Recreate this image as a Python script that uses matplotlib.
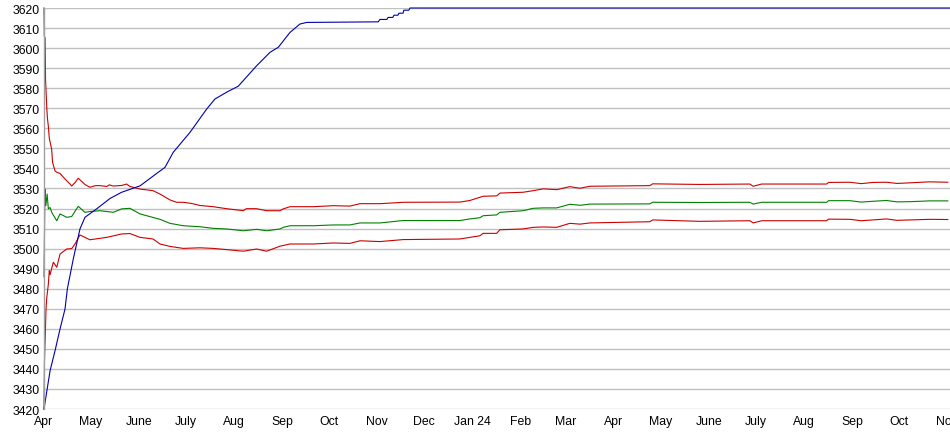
import matplotlib
matplotlib.use('Agg')
import matplotlib.pyplot as plt
import pandas as pd

START = pd.Timestamp('2023-04-01')

# upper red band (days since start, value)
upper_days = [0, 0.2, 0.7, 1.0, 1.8, 2.2, 2.8, 3.4, 4.9, 5.5, 7.1, 8.2, 10.3, 13.5, 16.7,
              17.8, 20.0, 22.0, 23.5, 26.3, 29.5, 33.0, 36.0, 40.3, 42.0, 44.5, 49.9, 53.1,
              55.2, 61.7, 70.0, 74.5, 80.9, 85.2, 89.5, 95.0, 100.2, 108.7, 117.3, 128.0,
              130.0, 136.6, 143.0, 151.6, 153.7, 158.0, 173.0, 185.8, 196.5, 203.0, 215.8,
              230.8, 267.2, 273.6, 280.0, 282.1, 290.8, 292.9, 307.8, 314.3, 320.7, 329.3,
              337.8, 344.3, 350.7, 389.2, 391.0, 421.3, 453.4, 455.6, 461.0, 502.7, 504.0,
              517.7, 525.0, 532.4, 541.2, 548.0, 556.2, 569.0, 580.6]
upper_vals = [3620, 3606, 3605, 3584, 3570, 3565, 3561, 3555, 3549.7, 3543, 3538.7, 3538.1,
              3537.5, 3534.7, 3532.2, 3531.2, 3533.0, 3535.1, 3534.0, 3532.0, 3530.6, 3531.4,
              3531.4, 3531.0, 3531.8, 3531.2, 3531.5, 3532.2, 3531.0, 3529.7, 3528.9, 3527.2,
              3524.3, 3523.1, 3523.1, 3522.5, 3521.5, 3520.9, 3519.9, 3518.9, 3519.9, 3519.9,
              3518.9, 3518.9, 3519.8, 3520.9, 3520.9, 3521.4, 3521.2, 3522.4, 3522.4, 3523.1,
              3523.2, 3524.0, 3525.6, 3526.1, 3526.3, 3527.7, 3528.1, 3528.9, 3529.8, 3529.4,
              3530.9, 3530.1, 3531.1, 3531.4, 3532.3, 3532.0, 3532.2, 3531.1, 3532.2, 3532.2,
              3533.0, 3533.1, 3532.4, 3533.0, 3533.1, 3532.5, 3532.8, 3533.3, 3533.1]

# green middle line
mid_days = [0, 0.3, 0.6, 1.2, 2.0, 2.8, 3.9, 5.0, 8.2, 10.3, 14.6, 17.8, 22.0, 26.3, 29.5,
            36.0, 44.5, 49.9, 55.2, 61.7, 74.5, 80.9, 89.5, 100.2, 108.7, 117.3, 128.0,
            136.6, 143.0, 151.6, 153.7, 158.0, 173.0, 185.8, 196.5, 203.0, 215.8, 230.8,
            267.2, 273.6, 280.0, 282.1, 290.8, 292.9, 307.8, 314.3, 320.7, 329.3, 337.8,
            344.3, 350.7, 389.2, 391.0, 421.3, 453.4, 455.6, 461.0, 502.7, 504.0, 517.7,
            525.0, 532.4, 541.2, 548.0, 556.2, 569.0, 580.6]
mid_vals = [3486, 3507, 3529.7, 3521.4, 3527.2, 3519.8, 3520.5, 3518.0, 3513.9, 3517.3,
            3515.6, 3516.0, 3521.1, 3518.1, 3518.5, 3518.9, 3518.1, 3519.8, 3520.1, 3517.3,
            3514.6, 3512.6, 3511.4, 3510.9, 3510.1, 3509.8, 3508.9, 3509.6, 3508.9, 3509.8,
            3510.6, 3511.4, 3511.4, 3511.8, 3511.8, 3512.8, 3512.8, 3514.0, 3514.0, 3514.8,
            3515.4, 3516.4, 3516.8, 3518.1, 3518.9, 3520.1, 3520.3, 3520.3, 3522.1, 3521.6,
            3522.2, 3522.3, 3523.1, 3523.0, 3523.1, 3522.2, 3523.1, 3523.1, 3523.9, 3523.9,
            3523.2, 3523.6, 3524.0, 3523.3, 3523.4, 3523.8, 3523.8]

# lower red band
lower_days = [0, 0.3, 0.9, 1.3, 1.7, 2.8, 3.4, 3.9, 6.0, 8.2, 10.3, 14.6, 17.8, 19.9, 23.1,
              26.3, 29.5, 40.3, 49.9, 55.2, 61.7, 70.0, 74.5, 80.9, 89.5, 100.2, 108.7,
              117.3, 128.0, 136.6, 143.0, 151.6, 158.0, 173.0, 185.8, 196.5, 203.0, 215.8,
              230.8, 267.2, 273.6, 280.0, 282.1, 290.8, 292.9, 307.8, 314.3, 320.7, 329.3,
              337.8, 344.3, 350.7, 389.2, 391.0, 421.3, 453.4, 455.6, 461.0, 502.7, 504.0,
              517.7, 525.0, 532.4, 541.2, 548.0, 556.2, 569.0, 580.6]
lower_vals = [3420, 3444, 3459, 3470, 3474.9, 3482.3, 3489.0, 3487.0, 3493.2, 3490.7, 3497.3,
              3499.8, 3500.0, 3502.3, 3506.8, 3505.6, 3504.4, 3505.6, 3507.3, 3507.5, 3505.6,
              3504.8, 3502.3, 3501.1, 3500.1, 3500.4, 3500.1, 3499.5, 3498.7, 3499.8, 3498.7,
              3501.2, 3502.3, 3502.3, 3502.8, 3502.6, 3503.9, 3503.5, 3504.5, 3504.8, 3505.6,
              3506.4, 3507.6, 3507.6, 3509.4, 3509.8, 3510.6, 3510.8, 3510.6, 3512.6, 3512.2,
              3512.8, 3513.4, 3514.3, 3513.6, 3513.9, 3512.8, 3513.9, 3513.9, 3514.7, 3514.6,
              3513.9, 3514.3, 3514.8, 3514.1, 3514.3, 3514.6, 3514.5]

# blue rising line
blue_days = [0, 3.9, 7.1, 10.3, 13.5, 15.0, 18.8, 23.1, 26.3, 33.8, 42.4, 49.9, 61.7, 72.4,
             77.7, 83.0, 93.8, 104.5, 109.8, 117.3, 124.8, 136.6, 145.2, 150.5, 158.0,
             164.4, 168.7, 214.7, 215.8, 220.3, 221.0, 224.1, 224.8, 227.4, 228.0, 230.6,
             231.2, 234.4, 235.1, 582.0]
blue_vals = [3420, 3439.1, 3449.1, 3459.9, 3469.9, 3479.9, 3494.8, 3509.8, 3515.6, 3519.8,
             3525.0, 3528.1, 3531.3, 3537.5, 3540.5, 3548.0, 3558.0, 3569.6, 3574.6, 3578.0,
             3581.0, 3591.2, 3597.9, 3600.4, 3607.8, 3612.0, 3612.8, 3613.1, 3614.3, 3614.3,
             3615.3, 3615.3, 3616.4, 3616.4, 3617.4, 3617.4, 3618.9, 3618.9, 3620.0, 3620.0]

month_labels = ['Apr', 'May', 'June', 'July', 'Aug', 'Sep', 'Oct', 'Nov', 'Dec', 'Jan 24',
                'Feb', 'Mar', 'Apr', 'May', 'June', 'July', 'Aug', 'Sep', 'Oct', 'Nov']


def to_dates(days):
    return START + pd.to_timedelta(days, unit='D')


plt.rcParams['font.family'] = ['Liberation Sans', 'DejaVu Sans']

fig = plt.figure(figsize=(9.5, 4.35), dpi=100)
fig.patch.set_facecolor('white')
ax = fig.add_axes([44 / 950, 25 / 435, 906 / 950, 401 / 435])

ax.plot(to_dates(upper_days), upper_vals, color='#CC0000', lw=0.8, clip_on=False)
ax.plot(to_dates(lower_days), lower_vals, color='#CC0000', lw=0.8, clip_on=False)
ax.plot(to_dates(mid_days), mid_vals, color='#008000', lw=0.8, clip_on=False)
ax.plot(to_dates(blue_days), blue_vals, color='#0000B0', lw=0.8, clip_on=False)

ax.set_ylim(3420, 3620)
ax.set_yticks(range(3420, 3621, 10))
ax.set_xlim(START, START + pd.Timedelta(days=582))
month_starts = pd.date_range('2023-04-01', periods=len(month_labels), freq='MS')
ax.set_xticks(month_starts)
ax.set_xticklabels(month_labels)

ax.grid(True, axis='y', color='#C0C0C0', lw=1.0)
ax.set_axisbelow(True)
for side in ['top', 'right', 'bottom']:
    ax.spines[side].set_visible(False)
ax.spines['left'].set_color('#A0A0A0')
ax.spines['left'].set_linewidth(1.0)
ax.tick_params(axis='both', length=0, labelsize=8.8, colors='#000000')
ax.tick_params(axis='y', pad=3)
ax.tick_params(axis='x', pad=4)

plt.savefig('out.png', dpi=100, facecolor='white')
